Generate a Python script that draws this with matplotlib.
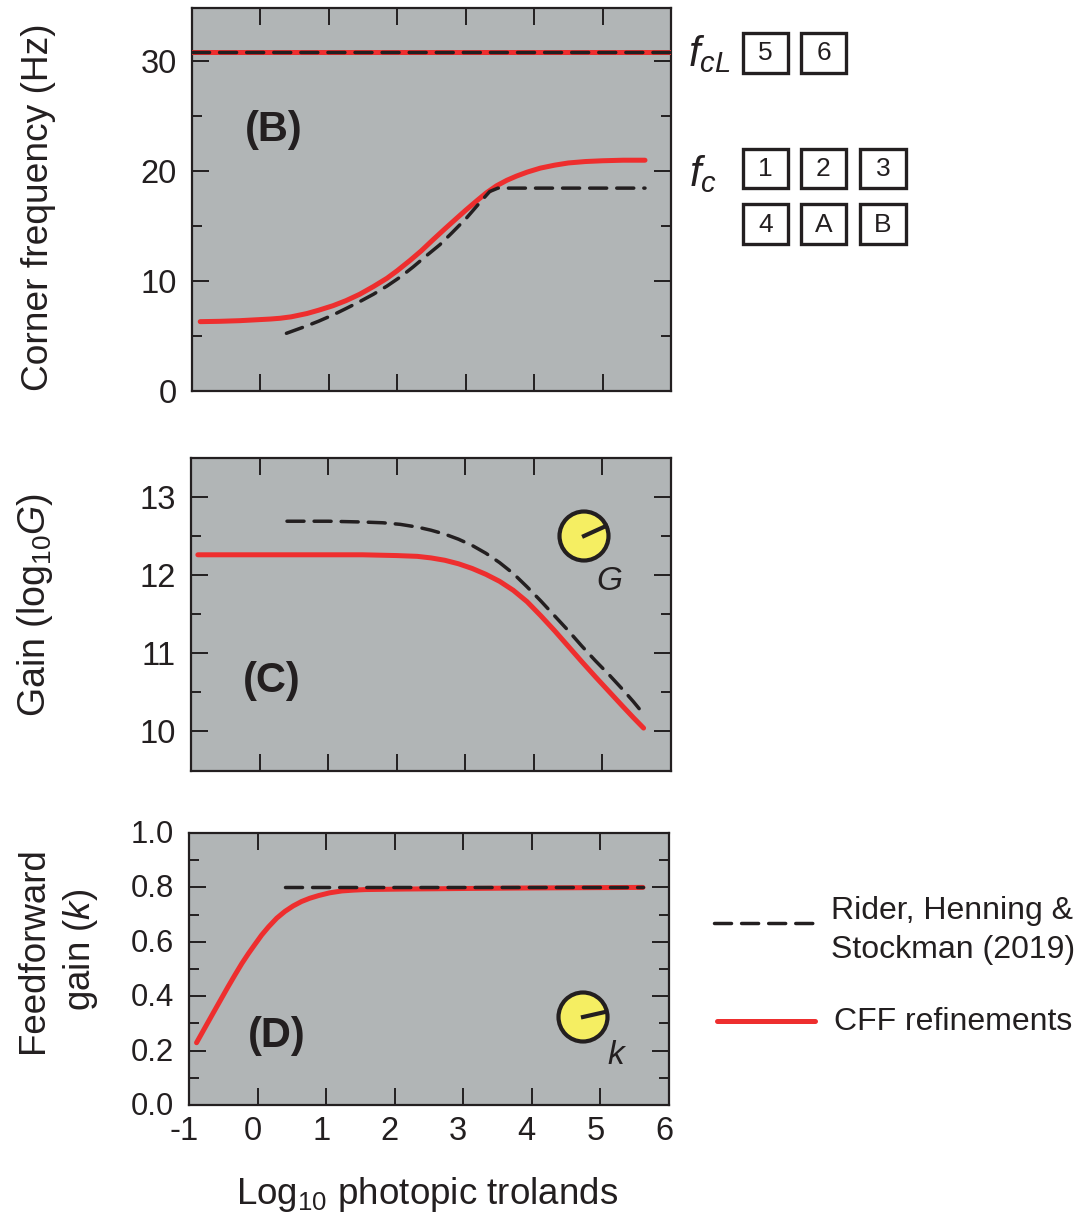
import matplotlib
matplotlib.use("Agg")
import matplotlib.pyplot as plt
from matplotlib.patches import Circle, Rectangle
from matplotlib.transforms import ScaledTranslation

plt.rcParams['font.family'] = ['Liberation Sans', 'DejaVu Sans']
plt.rcParams['mathtext.fontset'] = 'custom'
plt.rcParams['mathtext.rm'] = 'Liberation Sans'
plt.rcParams['mathtext.it'] = 'Liberation Sans:italic'

W, H = 1084, 1219
GREY = '#b1b5b6'
RED = '#ee2e2e'
INK = '#231f20'
DASH = (4.9, 2.9)

# panel B
b_red_x = [-0.88, -0.6, -0.3, 0, 0.15, 0.29, 0.45, 0.68, 0.85, 1.06, 1.25, 1.45, 1.65, 1.85, 2.0, 2.19, 2.35, 2.52, 2.7, 2.87,
           3.0, 3.16, 3.3, 3.45, 3.6, 3.74, 3.9, 4.09, 4.3, 4.5, 4.75, 5, 5.3, 5.62]
b_red_y = [6.31, 6.34, 6.4, 6.5, 6.55, 6.62, 6.75, 7.05, 7.35, 7.76, 8.22, 8.8, 9.5, 10.26, 10.95, 11.9, 12.75, 13.75, 14.78, 15.73,
           16.45, 17.3, 18.02, 18.67, 19.17, 19.55, 19.92, 20.28, 20.55, 20.75, 20.88, 20.95, 21.0, 21.0]
b_dash_x = [0.38, 0.65, 0.85, 1.06, 1.25, 1.45, 1.65, 1.85, 2.05, 2.23, 2.42, 2.62, 2.8, 3.01, 3.2, 3.35, 3.47, 5.62]
b_dash_y = [5.25, 5.86, 6.35, 6.92, 7.5, 8.13, 8.8, 9.55, 10.4, 11.28, 12.28, 13.3, 14.4, 15.73, 17.1, 18.15, 18.46, 18.46]
b_top_x = [-1, 6]
b_top_y = [30.87, 30.87]

# panel C
c_red_x = [-0.9, 0, 1, 1.5, 2, 2.3, 2.5, 2.7, 2.9, 3.1, 3.3, 3.5, 3.7, 3.9, 4.1, 4.3, 4.5, 4.7, 4.9, 5.1, 5.3, 5.45, 5.6]
c_red_y = [12.26, 12.26, 12.26, 12.26, 12.25, 12.24, 12.22, 12.19, 12.145, 12.085, 12.01, 11.92, 11.805, 11.66, 11.48, 11.29,
           11.09, 10.89, 10.695, 10.505, 10.315, 10.175, 10.04]
c_dash_x = [0.4, 1, 1.5, 1.8, 2.05, 2.3, 2.5, 2.7, 2.9, 3.1, 3.3, 3.5, 3.7, 3.9, 4.1, 4.3, 4.5, 4.7, 4.9, 5.1, 5.3, 5.45, 5.6]
c_dash_y = [12.69, 12.69, 12.68, 12.67, 12.65, 12.615, 12.575, 12.525, 12.46, 12.38, 12.28, 12.16, 12.02, 11.85, 11.67, 11.48,
            11.29, 11.09, 10.9, 10.72, 10.53, 10.38, 10.22]

# panel D
d_red_x = [-0.89, -0.77, -0.65, -0.54, -0.43, -0.33, -0.23, -0.13, -0.04, 0.06, 0.16, 0.28, 0.4, 0.52, 0.64, 0.76, 0.89, 1.05,
           1.23, 1.4, 1.57, 1.85, 2.15, 2.6, 3, 4, 5.62]
d_red_y = [0.229, 0.283, 0.337, 0.386, 0.435, 0.478, 0.52, 0.558, 0.59, 0.625, 0.655, 0.687, 0.712, 0.732, 0.748, 0.76, 0.77, 0.78,
           0.787, 0.79, 0.792, 0.793, 0.794, 0.795, 0.796, 0.798, 0.8]
d_dash_x = [0.4, 5.62]
d_dash_y = [0.8, 0.8]

x_ticks = [-1, 0, 1, 2, 3, 4, 5, 6]
b_ticks = [0, 10, 20, 30]
b_minor = [5, 15, 25]
c_ticks = [10, 11, 12, 13]
c_minor = [10.5, 11.5, 12.5]
d_ticks = [0, 0.2, 0.4, 0.6, 0.8, 1.0]
d_minor = [0.1, 0.3, 0.5, 0.7, 0.9]

fig = plt.figure(figsize=(W / 100, H / 100), dpi=100)


def panel(l, t, r, b, ylim, major, minor, ylabels, show_x=False):
    ax = fig.add_axes([l / W, 1 - b / H, (r - l) / W, (b - t) / H], facecolor=GREY)
    ax.set_xlim(-1, 6)
    ax.set_ylim(*ylim)
    ax.set_xticks(x_ticks)
    ax.set_yticks(major)
    ax.set_yticks(minor, minor=True)
    ax.set_yticklabels(ylabels)
    if show_x:
        ax.set_xticklabels(['-1', '0', '1', '2', '3', '4', '5', '6'])
    else:
        ax.set_xticklabels([])
    ax.tick_params(which='major', direction='in', length=12, width=1.4, color=INK, top=True, right=True,
                   labelsize=23.5, labelcolor=INK, pad=11)
    ax.tick_params(which='minor', direction='in', length=7, width=1.4, color=INK, right=True, left=True)
    ax.tick_params(axis='x', pad=8)
    # x labels sit a little left of their ticks in the original
    shift = ScaledTranslation(-5 / 100, 0, fig.dpi_scale_trans)
    for lab in ax.get_xticklabels():
        lab.set_transform(lab.get_transform() + shift)
    for s in ax.spines.values():
        s.set_linewidth(1.6)
        s.set_color(INK)
    return ax


def curves(ax, dx, dy, rx, ry):
    ax.plot(rx, ry, color=RED, lw=3.6, solid_capstyle='round', solid_joinstyle='round', zorder=3)
    ax.plot(dx, dy, color=INK, lw=2.5, dashes=DASH, dash_capstyle='round', zorder=4)


ax_b = panel(192, 8, 671, 391, (0, 34.85), b_ticks, b_minor, ['0', '10', '20', '30'])
curves(ax_b, b_top_x, b_top_y, b_top_x, b_top_y)
curves(ax_b, b_dash_x, b_dash_y, b_red_x, b_red_y)

ax_c = panel(191, 458, 671, 771, (9.49, 13.5), c_ticks, c_minor, ['10', '11', '12', '13'])
curves(ax_c, c_dash_x, c_dash_y, c_red_x, c_red_y)

ax_d = panel(189, 833, 669, 1105, (0, 1), d_ticks, d_minor, ['0.0', '0.2', '0.4', '0.6', '0.8', '1.0'], show_x=True)
curves(ax_d, d_dash_x, d_dash_y, d_red_x, d_red_y)
up = ScaledTranslation(0, 1.5 / 100, fig.dpi_scale_trans)
for lab in ax_d.get_yticklabels():
    lab.set_fontsize(22.3)
    lab.set_transform(lab.get_transform() + up)

# overlay in pixel coordinates for the annotations
ov = fig.add_axes([0, 0, 1, 1], facecolor='none')
ov.set_xlim(0, W)
ov.set_ylim(H, 0)
ov.axis('off')

ov.text(39, 207, 'Corner frequency (Hz)', rotation=90, ha='center', va='center', fontsize=26.7, color=INK)
ov.text(35, 605, r'Gain (log$_{10}$$\mathit{G}$)', rotation=90, ha='center', va='center', fontsize=27, color=INK)
ov.text(34, 950, 'Feedforward', rotation=90, ha='center', va='center', fontsize=26.5, color=INK)
ov.text(81, 950, r'gain ($\mathit{k}$)', rotation=90, ha='center', va='center', fontsize=26.5, color=INK)
ov.text(427, 1195, r'Log$_{10}$ photopic trolands', ha='center', va='center', fontsize=26.5, color=INK)

for s, x, y in [('(B)', 274, 130), ('(C)', 272, 681), ('(D)', 277, 1036)]:
    ov.text(x, y, s, ha='center', va='center', fontsize=30, fontweight='bold', color=INK)

ov.text(688, 54, r'$\mathit{f}_{\mathit{cL}}$', ha='left', va='center', fontsize=30, color=INK)
ov.text(689, 174, r'$\mathit{f}_{\mathit{c}}$', ha='left', va='center', fontsize=30, color=INK)

for s, x, y, w, h in [('5', 742.7, 33, 45.5, 39.5), ('6', 800.7, 33, 45.5, 39.5),
                      ('1', 742.7, 149, 45.5, 39.3), ('2', 800.7, 149, 45.5, 39.3), ('3', 860, 149, 45.6, 39.3),
                      ('4', 742.7, 204.4, 45.5, 39.9), ('A', 800.7, 204.4, 45.5, 39.9), ('B', 860, 204.4, 45.6, 39.9)]:
    ov.add_patch(Rectangle((x, y), w, h, fc='white', ec=INK, lw=2.4))
    ov.text(x + w / 2, y + h / 2 + 0.5, s, ha='center', va='center', fontsize=19, color=INK)

for cx, cy, ex, ey, s, tx, ty in [(584, 536, 606, 526, 'G', 609, 582), (583, 1017, 605, 1012, 'k', 616, 1055)]:
    ov.add_patch(Circle((cx, cy), 24.5, fc='#f5ee62', ec=INK, lw=3))
    ov.plot([cx, ex], [cy, ey], color=INK, lw=3)
    ov.text(tx, ty, s, ha='center', va='center', fontsize=24, style='italic', color=INK)

ov.plot([714, 814], [923, 923], color=INK, lw=2.5, dashes=DASH, dash_capstyle='round')
ov.plot([717, 815], [1021, 1021], color=RED, lw=3.6, solid_capstyle='round')
ov.text(831, 911, 'Rider, Henning &', ha='left', va='center', fontsize=23, color=INK)
ov.text(831, 950, 'Stockman (2019)', ha='left', va='center', fontsize=23, color=INK)
ov.text(834, 1022, 'CFF refinements', ha='left', va='center', fontsize=23, color=INK)

fig.savefig('out.png', dpi=100)
